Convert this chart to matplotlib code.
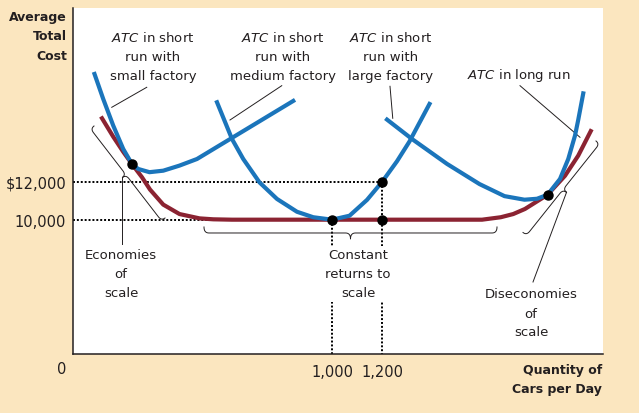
import numpy as np
import matplotlib
matplotlib.use("Agg")
import matplotlib.pyplot as plt

# values: quantity of cars per day vs average total cost
small_q = [50, 85, 125, 165, 200, 225, 270, 325, 390, 460, 525, 600, 660, 740, 845]
small_atc = [17730, 16400, 14990, 13750, 12950, 12690, 12520, 12600, 12870, 13220,
             13740, 14340, 14820, 15460, 16300]

medium_q = [540, 600, 645, 710, 780, 860, 925, 1000, 1070, 1140, 1200, 1260, 1310, 1390]
medium_atc = [16230, 14280, 13220, 11980, 11100, 10420, 10130, 10000, 10210, 11050,
              12000, 13100, 14150, 16140]

large_q = [1220, 1320, 1460, 1590, 1690, 1770, 1820, 1862, 1912, 1945, 1972, 1985, 2005]
large_atc = [15310, 14280, 12960, 11890, 11250, 11060, 11110, 11320, 12160, 13220,
             14460, 15300, 16700]

longrun_q = [80, 125, 165, 200, 240, 272, 325, 390, 470, 525, 600, 1000, 1200, 1600,
             1675, 1725, 1772, 1862, 1932, 1985, 2035]
longrun_atc = [15380, 14400, 13600, 12950, 12250, 11600, 10800, 10300, 10070, 10020,
               10000, 10000, 10000, 10000, 10130, 10300, 10570, 11320, 12330, 13400, 14700]

# marked points
dot_q = [200, 1000, 1200, 1200, 1862]
dot_atc = [12950, 10000, 12000, 10000, 11320]

xtick_vals = [1000, 1200]
xtick_labels = ["1,000", "1,200"]
ytick_vals = [10000, 12000]
ytick_labels = ["10,000", "$12,000"]

BLUE = "#1b75bb"
RED = "#8b2332"
BEIGE = "#fbe6bf"
INK = "#231f20"


def at(x, y):
    # pixel position -> figure fraction
    return x / 639, 1 - y / 414


def quad(a, b, c, n=12):
    s = np.linspace(0, 1, n)[:, None]
    return (1 - s) ** 2 * a + 2 * (1 - s) * s * b + s ** 2 * c


def brace(ax, p0, p1, depth=9, r=5):
    # curly brace between two data points, shaped in pixel space
    a = ax.transData.transform(p0)
    b = ax.transData.transform(p1)
    L = np.hypot(*(b - a))
    t = (b - a) / L
    n = np.array([t[1], -t[0]])
    h = depth / 2

    def P(s, u):
        return a + t * s + n * u

    m = L / 2
    pts = np.vstack([
        quad(P(0, 0), P(0, h), P(r, h)),
        quad(P(m - r, h), P(m, h), P(m, depth)),
        quad(P(m, depth), P(m, h), P(m + r, h)),
        quad(P(L - r, h), P(L, h), P(L, 0)),
    ])
    pts = ax.transData.inverted().transform(pts)
    ax.plot(pts[:, 0], pts[:, 1], color=INK, lw=0.7, zorder=2)


fig = plt.figure(figsize=(6.39, 4.14), dpi=100, facecolor=BEIGE)
ax = fig.add_axes([73 / 639, 59 / 414, 530 / 639, 346 / 414])
ax.set_facecolor("white")
ax.set_xlim(-36, 2084)
ax.set_ylim(2875, 21230)

for side in ["top", "right"]:
    ax.spines[side].set_visible(False)
for side in ["left", "bottom"]:
    ax.spines[side].set_linewidth(1.1)
    ax.spines[side].set_color(INK)

ax.set_xticks(xtick_vals, labels=xtick_labels)
ax.set_yticks(ytick_vals, labels=ytick_labels)
ax.tick_params(axis="x", length=0, pad=7, labelsize=10.5, labelcolor=INK)
ax.tick_params(axis="y", length=0, pad=5, labelsize=10.5, labelcolor=INK)

# dotted guides
dots = dict(color="black", lw=1.4, ls=(0, (1, 1)), zorder=1)
ax.plot([-36, 1200], [12000, 12000], **dots)
ax.plot([-36, 1000], [10000, 10000], **dots)
ax.plot([1000, 1000], [10000, 2875], **dots)
ax.plot([1200, 1200], [12000, 2875], **dots)

# curves
ax.plot(longrun_q, longrun_atc, color=RED, lw=3, zorder=3, solid_joinstyle="round")
for q, c in [(small_q, small_atc), (medium_q, medium_atc), (large_q, large_atc)]:
    ax.plot(q, c, color=BLUE, lw=3, zorder=4, solid_joinstyle="round")
ax.plot(dot_q, dot_atc, "o", color="black", ms=6.5, zorder=5)

# leader lines
lead = dict(color=INK, lw=0.7, zorder=2)
ax.plot([259, 119], [17024, 15962], **lead)
ax.plot([799, 592], [17109, 15289], **lead)
ax.plot([1232, 1243], [17077, 15379], **lead)
ax.plot([1752, 1992], [17109, 14371], **lead)
ax.plot([160, 160], [12239, 8711], **lead)
ax.plot([1938, 1804], [11448, 6695], **lead)

# braces
brace(ax, (48, 14970), (332, 10090), depth=9)
brace(ax, (488, 9613), (1660, 9613), depth=12)
brace(ax, (1764, 9321), (2056, 14175), depth=9)

# labels
lab = dict(fontsize=9.5, color=INK, ha="center", va="center", linespacing=1.6)
fig.text(*at(153, 57), r"$\mathit{ATC}$ in short" + "\nrun with\nsmall factory", **lab)
fig.text(*at(283, 57), r"$\mathit{ATC}$ in short" + "\nrun with\nmedium factory", **lab)
fig.text(*at(391, 57), r"$\mathit{ATC}$ in short" + "\nrun with\nlarge factory", **lab)
fig.text(*at(519, 75), r"$\mathit{ATC}$ in long run", **lab)
fig.text(*at(121, 275), "Economies\nof\nscale", **lab)
fig.text(*at(358, 275), "Constant\nreturns to\nscale",
         bbox=dict(fc="white", ec="none", pad=1.5), **lab)
fig.text(*at(531, 314), "Diseconomies\nof\nscale", **lab)

bold = dict(fontsize=9, color=INK, fontweight="bold", ha="right", va="center",
            linespacing=1.65)
fig.text(*at(67, 37), "Average\nTotal\nCost", **bold)
fig.text(*at(602, 380), "Quantity of\nCars per Day", **bold)
fig.text(*at(66, 370), "0", fontsize=10.5, color=INK, ha="right", va="center")

fig.savefig("out.png", dpi=100, facecolor=BEIGE)
